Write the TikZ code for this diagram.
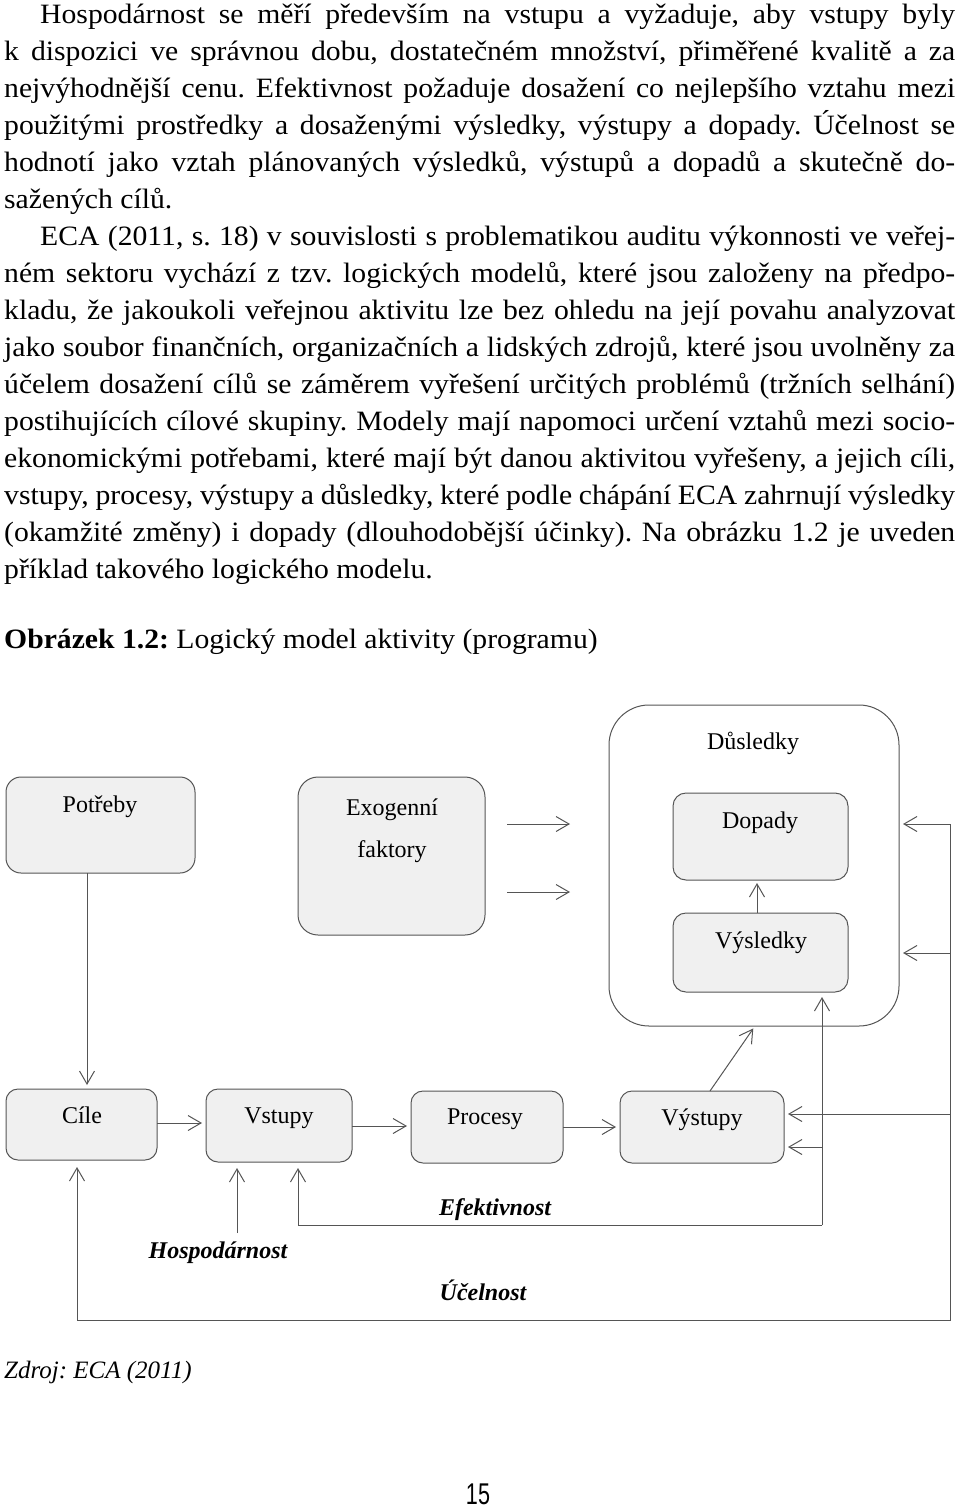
\documentclass[tikz,border=0pt]{standalone}
\usepackage{fontspec}
\setmainfont{Liberation Serif}
\newfontfamily\bodyfont{Liberation Serif}[FakeStretch=1.06]
\newfontfamily\pagenumfont{Liberation Sans}[FakeStretch=0.72]
\usetikzlibrary{arrows.meta}
\definecolor{boxfill}{HTML}{F0F0F0}
\definecolor{linecol}{HTML}{555555}
\tikzset{
  box/.style={draw=linecol, fill=boxfill, line width=1pt, inner sep=0pt, outer sep=0pt},
  lbl/.style={font=\fontsize{24}{28}\selectfont, inner sep=0pt, anchor=base},
  elbl/.style={inner sep=0pt, anchor=base, font=\fontsize{24}{28}\selectfont\bfseries\itshape},
  conn/.style={draw=linecol, line width=1pt},
  arr/.style={conn, -{Straight Barb[length=13pt,width=15pt]}, shorten >=4pt},
  bodyline/.style={anchor=base west, inner sep=0pt, font=\bodyfont\fontsize{28}{37}\selectfont},
}
\begin{document}
\frenchspacing
\begin{tikzpicture}[x=1pt,y=-1pt]
\useasboundingbox (0,0) rectangle (960,1509);

% body text
\node[bodyline] (t1) at (40,24) {\makebox[915pt][s]{Hospodárnost se měří především na vstupu a vyžaduje, aby vstupy byly}};
\node[bodyline] (t2) at (4,60.9) {\makebox[951pt][s]{k dispozici ve správnou dobu, dostatečném množství, přiměřené kvalitě a za}};
\node[bodyline] (t3) at (4,97.8) {\makebox[951pt][s]{nejvýhodnější cenu. Efektivnost požaduje dosažení co nejlepšího vztahu mezi}};
\node[bodyline] (t4) at (4,134.7) {\makebox[951pt][s]{použitými prostředky a dosaženými výsledky, výstupy a dopady. Účelnost se}};
\node[bodyline] (t5) at (4,171.6) {\makebox[951pt][s]{hodnotí jako vztah plánovaných výsledků, výstupů a dopadů a skutečně do-}};
\node[bodyline] (t6) at (4,208.5) {sažených cílů.};
\node[bodyline] (t7) at (40,245.5) {\makebox[915pt][s]{ECA (2011, s. 18) v souvislosti s problematikou auditu výkonnosti ve veřej-}};
\node[bodyline] (t8) at (4,282.5) {\makebox[951pt][s]{ném sektoru vychází z tzv. logických modelů, které jsou založeny na předpo-}};
\node[bodyline] (t9) at (4,319.5) {\makebox[951pt][s]{kladu, že jakoukoli veřejnou aktivitu lze bez ohledu na její povahu analyzovat}};
\node[bodyline] (t10) at (4,356.5) {\makebox[951pt][s]{jako soubor finančních, organizačních a lidských zdrojů, které jsou uvolněny za}};
\node[bodyline] (t11) at (4,393.5) {\makebox[951pt][s]{účelem dosažení cílů se záměrem vyřešení určitých problémů (tržních selhání)}};
\node[bodyline] (t12) at (4,430.5) {\makebox[951pt][s]{postihujících cílové skupiny. Modely mají napomoci určení vztahů mezi socio-}};
\node[bodyline] (t13) at (4,467.5) {\makebox[951pt][s]{ekonomickými potřebami, které mají být danou aktivitou vyřešeny, a jejich cíli,}};
\node[bodyline] (t14) at (4,504.5) {\makebox[951pt][s]{vstupy, procesy, výstupy a důsledky, které podle chápání ECA zahrnují výsledky}};
\node[bodyline] (t15) at (4,541.5) {\makebox[951pt][s]{(okamžité změny) i dopady (dlouhodobější účinky). Na obrázku 1.2 je uveden}};
\node[bodyline] (t16) at (4,578.5) {příklad takového logického modelu.};

\node[bodyline] (cap) at (4,648) {\textbf{Obrázek 1.2:} Logický model aktivity (programu)};

% boxes
\node[box, rounded corners=40pt, fill=white, minimum width=290pt, minimum height=321pt] (dus) at (754,865.5) {};
\node[box, rounded corners=15pt, minimum width=189pt, minimum height=96pt] (potreby) at (100.5,825) {};
\node[box, rounded corners=20pt, minimum width=187pt, minimum height=158pt] (exo) at (391.5,856) {};
\node[box, rounded corners=13pt, minimum width=175pt, minimum height=87pt] (dopady) at (760.5,836.5) {};
\node[box, rounded corners=13pt, minimum width=175pt, minimum height=79pt] (vysledky) at (760.5,952.5) {};
\node[box, rounded corners=12pt, minimum width=151pt, minimum height=71pt] (cile) at (81.5,1124.5) {};
\node[box, rounded corners=12pt, minimum width=146pt, minimum height=73pt] (vstupy) at (279,1125.5) {};
\node[box, rounded corners=12pt, minimum width=152pt, minimum height=72pt] (procesy) at (487,1127) {};
\node[box, rounded corners=12pt, minimum width=164pt, minimum height=72pt] (vystupy) at (702,1127) {};

% labels
\node[lbl] (lpot) at (100,812) {Potřeby};
\node[lbl] (lexo1) at (392,815) {Exogenní};
\node[lbl] (lexo2) at (392,857) {faktory};
\node[lbl] (ldus) at (753,749) {Důsledky};
\node[lbl] (ldop) at (760,828) {Dopady};
\node[lbl] (lvys) at (761,948) {Výsledky};
\node[lbl] (lcil) at (82,1123) {Cíle};
\node[lbl] (lvst) at (279,1123) {Vstupy};
\node[lbl] (lpro) at (485,1124) {Procesy};
\node[lbl] (lvyst) at (702,1125) {Výstupy};
\node[elbl] (lhos) at (218,1258) {Hospodárnost};
\node[elbl] (lefe) at (495,1215) {Efektivnost};
\node[elbl] (luce) at (483,1300) {Účelnost};

% coordinates
\coordinate (r1) at (950,824);
\coordinate (r2) at (950,953);
\coordinate (r3) at (950,1114);
\coordinate (r4) at (950,1320);
\coordinate (r5) at (77,1320);
\coordinate (e1) at (822,1147);
\coordinate (e2) at (822,1225);
\coordinate (e3) at (298,1225);
\coordinate (h1) at (237,1233);
\coordinate (d1) at (755,1026);

% connectors
\draw[arr] (potreby.south -| 87,0) -- (cile.north -| 87,0);
\draw[arr] (cile.east |- 0,1123) -- (vstupy.west |- 0,1123);
\draw[arr] (vstupy.east |- 0,1126) -- (procesy.west |- 0,1126);
\draw[arr] (procesy.east |- 0,1127) -- (vystupy.west |- 0,1127);
\draw[arr, shorten <=22pt, shorten >=39pt] (exo.east |- 0,824) -- (dus.west |- 0,824);
\draw[arr, shorten <=22pt, shorten >=39pt] (exo.east |- 0,892) -- (dus.west |- 0,892);
\draw[arr, shorten >=3pt] (vysledky.north -| 757,0) -- (dopady.south -| 757,0);
\draw[arr, shorten >=3pt] (vystupy.north -| 710,0) -- (d1);

\draw[arr] (r1) -- (dus.east |- r1);
\draw[arr] (r2) -- (dus.east |- r2);
\draw[arr] (r3) -- (vystupy.east |- r3);
\draw[arr, shorten >=7pt] (r1) -- (r4) -- (r5) -- (cile.south -| r5);

\draw[arr, shorten >=5pt] (e2) -- (vysledky.south -| e2);
\draw[arr] (e1) -- (vystupy.east |- e1);
\draw[arr, shorten >=6pt] (e2) -- (e3) -- (vstupy.south -| e3);

\draw[arr, shorten >=6pt] (h1) -- (vstupy.south -| h1);

% source and page number
\node[anchor=base west, inner sep=0pt, font=\fontsize{25}{30}\selectfont\itshape] (src) at (4,1378) {Zdroj: ECA (2011)};
\node[anchor=base, inner sep=0pt, font=\pagenumfont\fontsize{30}{36}\selectfont] (pg) at (478,1504) {15};
\end{tikzpicture}
\end{document}
